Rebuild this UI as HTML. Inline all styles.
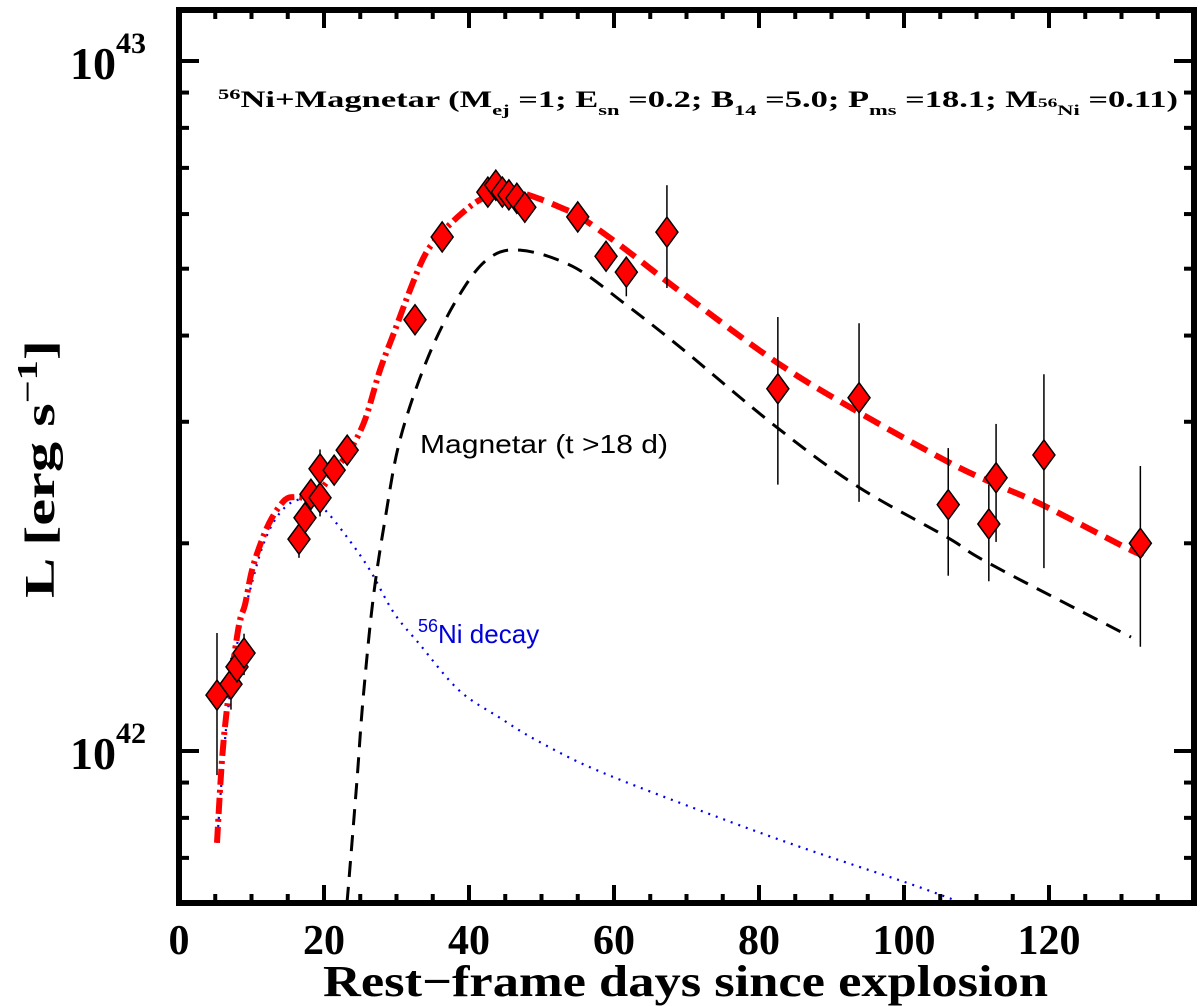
<!DOCTYPE html>
<html><head><meta charset="utf-8"><style>
html,body{margin:0;padding:0;background:#fff;}
svg{display:block;}
.ser{font-family:"Liberation Serif",serif;font-weight:bold;}
.san{font-family:"Liberation Sans",sans-serif;}
</style></head>
<body>
<svg id="chart" width="1200" height="1006" viewBox="0 0 1200 1006" xmlns="http://www.w3.org/2000/svg">
<g id="curves"></g>
<g id="points"></g>
<g id="axes"></g>
<text class="ser" x="218" y="107" font-size="23" textLength="960" lengthAdjust="spacingAndGlyphs"><tspan font-size="15" dy="-8">56</tspan><tspan dy="8">Ni+Magnetar (M</tspan><tspan font-size="15" dy="8">ej</tspan><tspan dy="-8"> =1; E</tspan><tspan font-size="15" dy="8">sn</tspan><tspan dy="-8"> =0.2; B</tspan><tspan font-size="15" dy="8">14</tspan><tspan dy="-8"> =5.0; P</tspan><tspan font-size="15" dy="8">ms</tspan><tspan dy="-8"> =18.1; M</tspan><tspan font-size="13">56</tspan><tspan font-size="15" dy="8">Ni</tspan><tspan dy="-8"> =0.11)</tspan></text>
<text class="san" x="420" y="453" font-size="26" textLength="248" lengthAdjust="spacingAndGlyphs" fill="#000">Magnetar (t &gt;18 d)</text>
<text class="san" x="418" y="643" font-size="26" fill="#0000dd"><tspan font-size="18" dy="-11">56</tspan><tspan dy="11">Ni decay</tspan></text>
<text class="ser" x="323" y="996" font-size="44" textLength="725" lengthAdjust="spacingAndGlyphs">Rest−frame days since explosion</text>
<text class="ser" transform="translate(54,598) rotate(-90)" font-size="42" textLength="258" lengthAdjust="spacingAndGlyphs">L [erg s<tspan font-size="28" dy="-17">−1</tspan><tspan dy="17">]</tspan></text>
</svg>
<script>
// ---- data ----
const obsDays = [5.24,7.17,8.0,8.97,16.55,17.38,18.2,19.45,19.45,21.4,23.2,32.55,36.3,42.6,43.7,44.6,45.5,46.6,47.7,55.0,58.9,61.7,67.3,82.6,93.8,106.1,111.7,112.7,119.3,132.6];
const obsLogL = [42.081,42.097,42.122,42.142,42.307,42.338,42.372,42.367,42.409,42.407,42.436,42.625,42.745,42.810,42.820,42.810,42.806,42.801,42.788,42.774,42.717,42.694,42.752,42.525,42.512,42.357,42.329,42.396,42.429,42.301];
const obsLo = [41.965,42.06,42.10,42.11,42.28,42.32,42.35,42.34,42.38,42.39,42.42,42.62,42.74,42.805,42.815,42.805,42.80,42.795,42.783,42.765,42.70,42.659,42.671,42.386,42.361,42.254,42.246,42.303,42.265,42.151];
const obsHi = [42.171,42.135,42.15,42.17,42.33,42.36,42.39,42.39,42.437,42.42,42.45,42.63,42.75,42.815,42.825,42.815,42.81,42.805,42.793,42.783,42.73,42.71,42.820,42.629,42.620,42.439,42.386,42.474,42.546,42.413];

const totDays = [5.24,5.93,6.76,7.72,8.41,9.10,10.07,11.45,12.83,14.62,16.0,17.38,18.48,19.72,21.52,23.59,25.66,27.72,29.79,31.86,33.93,36.0,38.76,41.52,44.28,47.03,49.79,52.55,55.31,60.83,69.38,82.6,93.9,106.07,112.28,119.03,131.31,132.55];
const totLogL = [41.867,41.987,42.074,42.146,42.190,42.212,42.262,42.306,42.338,42.364,42.368,42.367,42.371,42.381,42.407,42.436,42.480,42.552,42.610,42.668,42.719,42.748,42.777,42.799,42.809,42.809,42.800,42.788,42.774,42.733,42.664,42.562,42.490,42.419,42.388,42.357,42.291,42.288];

const magDays = [23.17,23.59,24.55,25.38,26.76,28.41,30.48,34.21,38.34,42.48,47.03,54.34,61.52,69.38,82.34,93.66,106.07,111.72,131.31];
const magLogL = [41.780,41.832,41.958,42.074,42.219,42.335,42.451,42.567,42.655,42.712,42.726,42.702,42.648,42.583,42.470,42.383,42.309,42.272,42.165];

const niDays = [5.24,6.34,7.45,8.41,9.79,11.45,13.24,15.31,17.38,19.86,23.17,26.34,29.66,33.24,38.62,44.28,49.24,57.66,72.83,85.66,100.41,107.72];
const niLogL = [41.867,42.016,42.117,42.175,42.233,42.294,42.335,42.359,42.364,42.352,42.310,42.262,42.200,42.154,42.088,42.048,42.016,41.972,41.910,41.861,41.809,41.781];

const xTickLabels = ["0","20","40","60","80","100","120"];
const xTickValues = [0,20,40,60,80,100,120];

// ---- scales ----
const X0=179, X1=1194, Y0=10, Y1=903;
const xMin=0, xMax=140, yMin=41.7797, yMax=43.0739;
function sx(d){return X0+(d-xMin)/(xMax-xMin)*(X1-X0);}
function sy(l){return Y1-(l-yMin)/(yMax-yMin)*(Y1-Y0);}
const NS="http://www.w3.org/2000/svg";
function mk(tag,attrs,parent){const e=document.createElementNS(NS,tag);for(const k in attrs)e.setAttribute(k,attrs[k]);parent.appendChild(e);return e;}

const curves=document.getElementById('curves');
function pathOf(ds,ls,filter){
  const P=[];for(let i=0;i<ds.length;i++){if(filter&&!filter(ds[i]))continue;P.push([sx(ds[i]),sy(ls[i])]);}
  let s='M'+P[0][0].toFixed(1)+','+P[0][1].toFixed(1);
  for(let i=0;i<P.length-1;i++){
    const p0=P[Math.max(0,i-1)],p1=P[i],p2=P[i+1],p3=P[Math.min(P.length-1,i+2)];
    const c1=[p1[0]+(p2[0]-p0[0])/6,p1[1]+(p2[1]-p0[1])/6];
    const c2=[p2[0]-(p3[0]-p1[0])/6,p2[1]-(p3[1]-p1[1])/6];
    s+='C'+c1[0].toFixed(1)+','+c1[1].toFixed(1)+' '+c2[0].toFixed(1)+','+c2[1].toFixed(1)+' '+p2[0].toFixed(1)+','+p2[1].toFixed(1);
  }
  return s;
}
const clip=mk('clipPath',{id:'plotclip'},curves);
mk('rect',{x:X0,y:Y0,width:X1-X0,height:Y1-Y0},clip);

let p=mk('path',{d:pathOf(niDays,niLogL),fill:'none',stroke:'#0000ee','stroke-width':2.2,'stroke-dasharray':'2,6','clip-path':'url(#plotclip)'},curves);


p=mk('path',{d:pathOf(magDays,magLogL),fill:'none',stroke:'#000','stroke-width':3,'stroke-dasharray':'16,10','clip-path':'url(#plotclip)'},curves);


p=mk('path',{d:pathOf(totDays,totLogL,d=>d<=45),fill:'none',stroke:'#f00','stroke-width':6,'stroke-dasharray':'16,5,3,5','clip-path':'url(#plotclip)'},curves);


p=mk('path',{d:pathOf(totDays,totLogL,d=>d>=44),fill:'none',stroke:'#f00','stroke-width':6,'stroke-dasharray':'18,9','clip-path':'url(#plotclip)'},curves);



const pts=document.getElementById('points');
for(let i=0;i<obsDays.length;i++){
  const x=sx(obsDays[i]);
  const eb=mk('line',{x1:x,x2:x,y1:sy(obsHi[i]),y2:sy(obsLo[i]),stroke:'#000','stroke-width':1.5},pts);
  
  
}
for(let i=0;i<obsDays.length;i++){
  const x=sx(obsDays[i]),y=sy(obsLogL[i]);
  const dm=mk('polygon',{points:`${x},${y-15} ${x+11},${y} ${x},${y+15} ${x-11},${y}`,fill:'#f00',stroke:'#000','stroke-width':1.5},pts);
  
  
}

const ax=document.getElementById('axes');
const frame=mk('rect',{x:X0,y:Y0,width:X1-X0,height:Y1-Y0,fill:'none',stroke:'#000','stroke-width':6},ax);


for(let d=0;d<=xMax;d+=5){
  const major=d%20===0, L=major?18:9, x=sx(d);
  mk('line',{x1:x,x2:x,y1:Y1,y2:Y1-L,stroke:'#000','stroke-width':4},ax);
  mk('line',{x1:x,x2:x,y1:Y0,y2:Y0+L,stroke:'#000','stroke-width':4},ax);
}
for(let i=0;i<xTickValues.length;i++){
  const t=mk('text',{x:sx(xTickValues[i]),y:954,'font-size':42,'text-anchor':'middle',class:'ser'},ax);
  t.textContent=xTickLabels[i];
  
  
}
for(let e=41;e<=43;e++){for(let m=1;m<=9;m++){
  const l=e+Math.log10(m); if(l<yMin||l>yMax)continue;
  const y=sy(l), L=m===1?20:10;
  mk('line',{x1:X0,x2:X0+L,y1:y,y2:y,stroke:'#000','stroke-width':4},ax);
  mk('line',{x1:X1,x2:X1-L,y1:y,y2:y,stroke:'#000','stroke-width':4},ax);
  if(m===1){
    const t=mk('text',{x:70,y:y+18,'font-size':46,class:'ser'},ax);
    t.innerHTML='10<tspan font-size="30" dy="-26">'+e+'</tspan>';
    
    
  }
}}
</script>
</body></html>
